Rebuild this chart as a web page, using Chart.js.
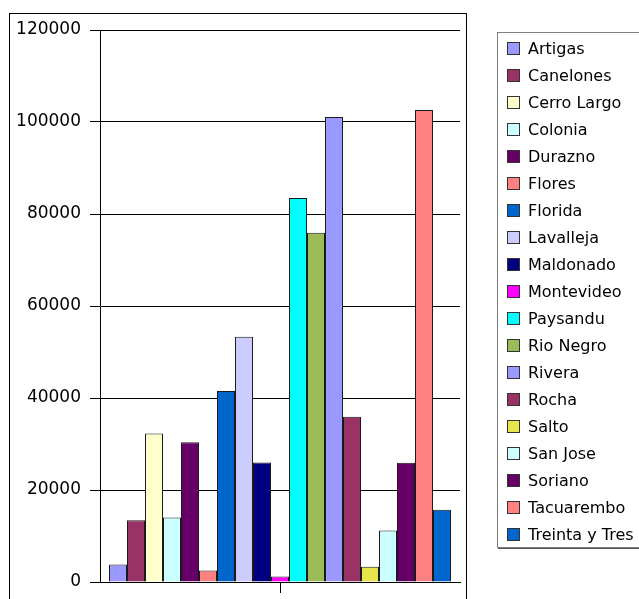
<!DOCTYPE html>
<html>
<head>
<meta charset="utf-8">
<script src="https://cdn.jsdelivr.net/npm/chart.js@4/dist/chart.umd.min.js"></script>
<style>
  html, body { margin: 0; padding: 0; background: #fff; }
  #c { display: block; }
</style>
</head>
<body>
<canvas id="c" width="639" height="599"></canvas>
<script>
// Departments of Uruguay, one bar each
const departments = [
  'Artigas', 'Canelones', 'Cerro Largo', 'Colonia', 'Durazno', 'Flores',
  'Florida', 'Lavalleja', 'Maldonado', 'Montevideo', 'Paysandu', 'Rio Negro',
  'Rivera', 'Rocha', 'Salto', 'San Jose', 'Soriano', 'Tacuarembo', 'Treinta y Tres'
];
const values = [
  3800, 13400, 32300, 14000, 30400, 2500,
  41500, 53300, 26000, 1200, 83500, 75900,
  101100, 35900, 3300, 11200, 25900, 102600, 15700
];
const colors = [
  '#9999FF', '#993366', '#FFFFCC', '#CCFFFF', '#660066', '#FF8080',
  '#0066CC', '#CCCCFF', '#000080', '#FF00FF', '#00FFFF', '#9BBB59',
  '#9999FF', '#993366', '#E6E64C', '#CCFFFF', '#660066', '#FF8080', '#0066CC'
];
const categories = [''];
const yMin = 0, yMax = 120000, yStep = 20000;

const FONT = '"DejaVu Sans", Verdana, sans-serif';

const datasets = departments.map((name, i) => ({
  label: name,
  data: [values[i]],
  backgroundColor: colors[i],
  borderColor: '#1a1a1a',
  borderWidth: 1,
  categoryPercentage: 0.95,
  barPercentage: 1.0
}));

// Outer frame and boxed legend drawn on the canvas
const framePlugin = {
  id: 'frame',
  beforeDraw(chart) {
    const ctx = chart.ctx;
    ctx.save();
    ctx.fillStyle = '#fff';
    ctx.fillRect(0, 0, chart.width, chart.height);
    ctx.strokeStyle = '#000';
    ctx.lineWidth = 1;
    ctx.strokeRect(9.5, 13.5, 457, 700);
    ctx.restore();
  },
  afterDraw(chart) {
    const ctx = chart.ctx;
    ctx.save();
    ctx.strokeStyle = '#808080';
    ctx.lineWidth = 1;
    ctx.strokeRect(497.5, 32.5, 200, 515);
    ctx.strokeStyle = '#555';
    ctx.beginPath();
    ctx.moveTo(498, 548.5);
    ctx.lineTo(639, 548.5);
    ctx.stroke();
    ctx.font = '16px ' + FONT;
    ctx.textBaseline = 'middle';
    ctx.textAlign = 'left';
    chart.data.datasets.forEach((ds, i) => {
      const y = 49 + 27 * i;
      ctx.fillStyle = ds.backgroundColor;
      ctx.fillRect(507, y - 7, 13, 13);
      ctx.strokeStyle = '#333';
      ctx.strokeRect(507.5, y - 6.5, 12, 12);
      ctx.fillStyle = '#000';
      ctx.fillText(ds.label, 528, y + 1);
    });
    ctx.restore();
  }
};

new Chart(document.getElementById('c'), {
  type: 'bar',
  data: { labels: categories, datasets },
  plugins: [framePlugin],
  options: {
    responsive: false,
    animation: false,
    layout: { padding: { left: 0, top: 30, right: 179, bottom: 0 } },
    plugins: {
      legend: { display: false },
      tooltip: { enabled: false }
    },
    scales: {
      x: {
        offset: true,
        grid: { display: true, drawOnChartArea: false, offset: false, tickLength: 11, color: '#000', lineWidth: 1 },
        border: { display: true, color: '#000', width: 1 },
        ticks: { display: false },
        afterFit(s) { s.height = 17; }
      },
      y: {
        min: yMin,
        max: yMax,
        ticks: {
          stepSize: yStep,
          color: '#000',
          font: { family: FONT, size: 17 },
          padding: 9,
          callback: (v) => String(v)
        },
        grid: { color: '#000', lineWidth: 1, tickLength: 10 },
        border: { display: true, color: '#000', width: 1 },
        afterFit(s) {
          s.width = 100;
          s.paddingTop = 0;
          s.paddingBottom = 0;
        }
      }
    }
  }
});
</script>
</body>
</html>
